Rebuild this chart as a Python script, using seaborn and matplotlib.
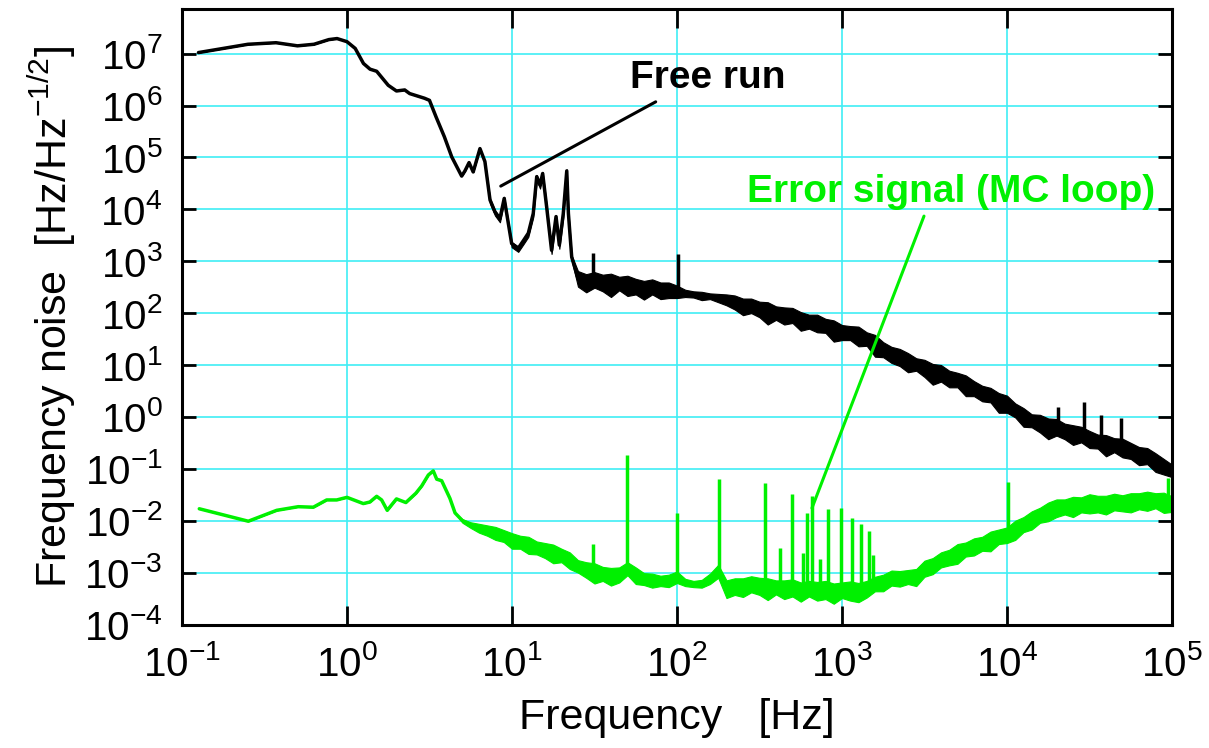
"""Frequency noise spectrum: free run vs. MC loop error signal."""

import matplotlib
matplotlib.use("Agg")
import matplotlib.pyplot as plt
import numpy as np
import pandas as pd
import seaborn as sns

# Free run: log10(f/Hz), log10(noise), and how far the noise band reaches
# above / below that level (decades)
free_logf = [
    -0.90, -0.60, -0.43, -0.30, -0.20, -0.11, -0.06, 0.00, 0.05, 0.10,
    0.14, 0.18, 0.25, 0.30, 0.35, 0.38, 0.47, 0.50, 0.54, 0.59,
    0.635, 0.695, 0.715, 0.74, 0.765, 0.806, 0.836,
    0.867, 0.897, 0.927, 0.953, 0.968, 0.998, 1.038, 1.07, 1.099, 1.129,
    1.15, 1.17, 1.186, 1.21, 1.24, 1.267, 1.287, 1.311, 1.332, 1.342, 1.362,
    1.40, 1.45, 1.50, 1.55, 1.60, 1.65, 1.70, 1.75, 1.80, 1.85,
    1.90, 1.95, 2.00, 2.05, 2.10, 2.15, 2.20, 2.25, 2.30, 2.35,
    2.40, 2.45, 2.50, 2.55, 2.60, 2.65, 2.70, 2.75, 2.80, 2.85,
    2.90, 2.95, 3.00, 3.05, 3.10, 3.15, 3.20, 3.25, 3.30, 3.35,
    3.40, 3.45, 3.50, 3.55, 3.60, 3.65, 3.70, 3.75, 3.80, 3.85,
    3.90, 3.95, 4.00, 4.05, 4.10, 4.15, 4.20, 4.25, 4.30, 4.35,
    4.40, 4.45, 4.50, 4.55, 4.60, 4.65, 4.70, 4.75, 4.80, 4.85,
    4.90, 4.95, 5.00,
]
free_logv = [
    7.02, 7.18, 7.21, 7.15, 7.18, 7.27, 7.29, 7.23, 7.10, 6.81,
    6.70, 6.66, 6.39, 6.28, 6.30, 6.23, 6.14, 6.10, 5.78, 5.40,
    5.01, 4.64, 4.74, 4.90, 4.72, 5.17, 4.92,
    4.18, 3.95, 3.82, 4.21, 3.92, 3.34, 3.25, 3.40, 3.54, 3.92,
    4.63, 4.47, 4.69, 4.05, 3.21, 3.86, 3.31, 3.92, 4.74, 3.92, 3.08,
    2.67, 2.65, 2.63, 2.62, 2.61, 2.59, 2.55, 2.54, 2.52, 2.50,
    2.47, 2.45, 2.43, 2.39, 2.37, 2.35, 2.33, 2.30, 2.27, 2.22,
    2.18, 2.14, 2.10, 2.06, 2.02, 1.98, 1.94, 1.90, 1.87, 1.83,
    1.77, 1.71, 1.66, 1.62, 1.58, 1.53, 1.46, 1.30, 1.24, 1.16,
    1.10, 1.03, 0.96, 0.90, 0.84, 0.78, 0.72, 0.65, 0.57, 0.50,
    0.42, 0.34, 0.26, 0.15, 0.04, -0.05, -0.10, -0.15, -0.20, -0.24,
    -0.29, -0.34, -0.39, -0.44, -0.49, -0.53, -0.58, -0.63, -0.69, -0.75,
    -0.84, -0.93, -1.02,
]
free_up = [0] * 27 + [0.03] * 21 + [
    0.14, 0.10, 0.16, 0.12, 0.15, 0.11, 0.17, 0.12, 0.10, 0.15,
    0.12, 0.14, 0.10, 0.06, 0.05, 0.06, 0.05, 0.07, 0.09, 0.12,
    0.10, 0.14, 0.12, 0.15, 0.11, 0.13, 0.16, 0.12, 0.10, 0.14,
    0.12, 0.15, 0.11, 0.13, 0.16, 0.10, 0.12, 0.14, 0.11, 0.15,
    0.13, 0.10, 0.14, 0.12, 0.16, 0.11, 0.13, 0.15, 0.12, 0.10,
    0.14, 0.12, 0.15, 0.11, 0.13, 0.10, 0.14, 0.12, 0.16, 0.11,
    0.13, 0.15, 0.12, 0.10, 0.14, 0.12, 0.16, 0.13, 0.11, 0.15,
    0.14, 0.12, 0.10,
]
free_down = [0] * 27 + [0.07] * 21 + [
    0.16, 0.25, 0.14, 0.20, 0.30, 0.15, 0.22, 0.18, 0.26, 0.14,
    0.20, 0.16, 0.14, 0.08, 0.07, 0.10, 0.06, 0.09, 0.12, 0.15,
    0.22, 0.14, 0.18, 0.28, 0.15, 0.20, 0.13, 0.24, 0.17, 0.20,
    0.15, 0.26, 0.18, 0.14, 0.22, 0.16, 0.30, 0.15, 0.20, 0.18,
    0.24, 0.14, 0.19, 0.28, 0.16, 0.21, 0.15, 0.25, 0.17, 0.20,
    0.14, 0.26, 0.18, 0.16, 0.23, 0.15, 0.20, 0.28, 0.16, 0.19,
    0.25, 0.15, 0.21, 0.17, 0.27, 0.15, 0.20, 0.18, 0.24, 0.16,
    0.22, 0.18, 0.14,
]
# narrow line peaks: log10(f), log10 of foot and tip
free_spike_logf = [1.49, 2.004, 4.31, 4.467, 4.57, 4.69]
free_spike_base = [2.62, 2.43, -0.20, -0.35, -0.45, -0.57]
free_spike_top = [3.15, 3.13, 0.195, 0.29, 0.03, -0.03]

# Error signal (MC loop)
mc_logf = [
    -0.895, -0.598, -0.426, -0.295, -0.204, -0.123, -0.062, 0.0, 0.099, 0.139,
    0.18, 0.21, 0.244, 0.30, 0.357, 0.418, 0.453, 0.493, 0.523, 0.544,
    0.574, 0.624, 0.655,
    0.70, 0.75, 0.80, 0.85, 0.90, 0.95, 1.00, 1.05, 1.10, 1.15,
    1.20, 1.25, 1.30, 1.35, 1.40, 1.45, 1.50, 1.55, 1.60, 1.65,
    1.70, 1.75, 1.80, 1.85, 1.90, 1.95, 2.00, 2.05, 2.10, 2.15,
    2.20, 2.25, 2.30, 2.35, 2.40, 2.45, 2.50, 2.55, 2.60, 2.65,
    2.70, 2.75, 2.80, 2.85, 2.90, 2.95, 3.00, 3.05, 3.10, 3.15,
    3.20, 3.25, 3.30, 3.35, 3.40, 3.45, 3.50, 3.55, 3.60, 3.65,
    3.70, 3.75, 3.80, 3.85, 3.90, 3.95, 4.00, 4.05, 4.10, 4.15,
    4.20, 4.25, 4.30, 4.35, 4.40, 4.45, 4.50, 4.55, 4.60, 4.65,
    4.70, 4.75, 4.80, 4.85, 4.90, 4.95, 5.00,
]
mc_logv = [
    -1.77, -2.01, -1.80, -1.73, -1.74, -1.60, -1.60, -1.55, -1.67, -1.64,
    -1.53, -1.60, -1.80, -1.58, -1.65, -1.47, -1.33, -1.12, -1.04, -1.20,
    -1.23, -1.57, -1.85,
    -2.00, -2.08, -2.13, -2.17, -2.22, -2.28, -2.36, -2.40, -2.44, -2.50,
    -2.55, -2.60, -2.65, -2.74, -2.86, -2.92, -2.96, -3.00, -3.04, -3.02,
    -2.90, -3.02, -3.10, -3.13, -3.14, -3.14, -3.08, -3.18, -3.21, -3.20,
    -3.10, -2.95, -3.27, -3.25, -3.22, -3.22, -3.22, -3.25, -3.25, -3.28,
    -3.28, -3.30, -3.30, -3.30, -3.32, -3.32, -3.32, -3.32, -3.32, -3.30,
    -3.20, -3.14, -3.10, -3.08, -3.08, -3.05, -2.92, -2.83, -2.75, -2.68,
    -2.61, -2.54, -2.48, -2.42, -2.36, -2.30, -2.25, -2.16, -2.06, -1.97,
    -1.87, -1.79, -1.75, -1.72, -1.69, -1.67, -1.66, -1.66, -1.65, -1.64,
    -1.63, -1.62, -1.61, -1.60, -1.60, -1.61, -1.65,
]
mc_up = [0] * 23 + [
    0.03, 0.05, 0.07, 0.08, 0.10, 0.10, 0.12, 0.11, 0.13, 0.10,
    0.12, 0.14, 0.11, 0.13, 0.10, 0.12, 0.14, 0.11, 0.13, 0.12,
    0.10, 0.12, 0.09, 0.11, 0.08, 0.10, 0.10, 0.06, 0.05, 0.06,
    0.08, 0.10, 0.12, 0.14, 0.11, 0.15, 0.12, 0.14, 0.10, 0.13,
    0.15, 0.11, 0.14, 0.12, 0.16, 0.11, 0.13, 0.15, 0.12, 0.14,
    0.12, 0.10, 0.14, 0.11, 0.13, 0.12, 0.15, 0.11, 0.14, 0.12,
    0.16, 0.12, 0.14, 0.11, 0.15, 0.13, 0.12, 0.16, 0.13, 0.15,
    0.12, 0.14, 0.16, 0.13, 0.15, 0.12, 0.17, 0.14, 0.13, 0.16,
    0.12, 0.15, 0.14, 0.16, 0.13, 0.15, 0.12,
]
mc_down = [0] * 23 + [
    0.04, 0.06, 0.10, 0.12, 0.15, 0.13, 0.18, 0.14, 0.20, 0.15,
    0.17, 0.22, 0.15, 0.19, 0.14, 0.18, 0.25, 0.16, 0.21, 0.17,
    0.15, 0.20, 0.14, 0.16, 0.12, 0.14, 0.12, 0.08, 0.07, 0.09,
    0.12, 0.15, 0.22, 0.18, 0.25, 0.16, 0.21, 0.28, 0.17, 0.23,
    0.18, 0.26, 0.16, 0.24, 0.19, 0.28, 0.17, 0.22, 0.25, 0.18,
    0.16, 0.22, 0.15, 0.19, 0.14, 0.21, 0.16, 0.20, 0.15, 0.18,
    0.22, 0.15, 0.19, 0.16, 0.23, 0.15, 0.18, 0.21, 0.16, 0.20,
    0.17, 0.22, 0.18, 0.16, 0.24, 0.17, 0.20, 0.18, 0.23, 0.16,
    0.19, 0.22, 0.17, 0.21, 0.16, 0.24, 0.18,
]
mc_spike_logf = [
    1.493, 1.699, 2.002, 2.257, 2.533, 2.624, 2.70, 2.765, 2.79, 2.82,
    2.867, 2.913, 2.992, 3.058, 3.115, 3.166, 3.19, 4.008, 4.978,
]
mc_spike_base = [
    -2.96, -2.90, -3.08, -2.95, -3.22, -3.25, -3.28, -3.30, -3.30, -3.30,
    -3.30, -3.32, -3.32, -3.32, -3.32, -3.30, -3.20, -2.25, -1.61,
]
mc_spike_top = [
    -2.44, -0.74, -1.86, -1.20, -1.28, -2.53, -1.49, -2.63, -1.86, -1.53,
    -2.73, -1.78, -1.76, -1.94, -2.07, -2.20, -2.66, -1.25, -1.18,
]

GREEN = "#00f000"
GRID = "#40eef5"


def spectrum_frame(logf, logv, up, down):
    """Rows for lower edge, level and upper edge at each frequency."""
    logf = np.asarray(logf)
    logv = np.asarray(logv)
    parts = [
        pd.DataFrame({"freq": 10.0 ** logf, "noise": 10.0 ** (logv + np.asarray(off))})
        for off in (-np.asarray(down), np.zeros(len(logv)), np.asarray(up))
    ]
    return pd.concat(parts, ignore_index=True)


def main():
    """Go Main Go."""
    sns.set_style("ticks")
    plt.rcParams["font.family"] = ["Liberation Sans", "DejaVu Sans"]
    plt.rcParams["mathtext.fontset"] = "custom"
    plt.rcParams["mathtext.rm"] = "Liberation Sans"
    plt.rcParams["mathtext.it"] = "Liberation Sans:italic"
    plt.rcParams["mathtext.bf"] = "Liberation Sans:bold"
    for key in ("text.color", "axes.labelcolor", "xtick.color", "ytick.color",
                "axes.edgecolor"):
        plt.rcParams[key] = "black"

    fig = plt.figure(figsize=(12.09, 7.48), dpi=100)
    ax = fig.add_axes([0.1505, 0.1651, 0.8189, 0.8222])
    ax.set(xscale="log", yscale="log")

    curves = (
        (free_logf, free_logv, free_up, free_down,
         free_spike_logf, free_spike_base, free_spike_top, "black"),
        (mc_logf, mc_logv, mc_up, mc_down,
         mc_spike_logf, mc_spike_base, mc_spike_top, GREEN),
    )
    for logf, logv, up, down, sf, sb, st, color in curves:
        sns.lineplot(
            data=spectrum_frame(logf, logv, up, down),
            x="freq",
            y="noise",
            estimator="median",
            errorbar=("pi", 100),
            err_kws={"alpha": 1, "linewidth": 0.8, "edgecolor": color},
            color=color,
            linewidth=2.5,
            ax=ax,
        )
        ax.vlines(10.0 ** np.asarray(sf), 10.0 ** np.asarray(sb),
                  10.0 ** np.asarray(st), colors=color, linewidth=2.5)

    ax.set_xlim(1e-1, 1e5)
    ax.set_ylim(1e-4, 10 ** 7.85)
    ax.xaxis.set_major_locator(matplotlib.ticker.LogLocator(base=10, numticks=20))
    ax.yaxis.set_major_locator(matplotlib.ticker.LogLocator(base=10, numticks=20))
    ax.xaxis.set_minor_locator(matplotlib.ticker.NullLocator())
    ax.yaxis.set_minor_locator(matplotlib.ticker.NullLocator())
    ax.grid(True, which="major", color=GRID, linewidth=1.2)
    ax.set_axisbelow(True)
    for spine in ax.spines.values():
        spine.set_visible(True)
        spine.set_linewidth(2.2)
        spine.set_color("black")
    ax.tick_params(axis="both", direction="in", top=True, right=True,
                   width=2.0, labelsize=29, color="black", labelcolor="black")
    ax.tick_params(axis="x", length=14, pad=15)
    ax.tick_params(axis="y", length=10, pad=14)

    ax.set_xlabel("Frequency   [Hz]", fontsize=31, labelpad=10)
    ax.set_ylabel("Frequency noise  [Hz/Hz$^{-1/2}$]", fontsize=31, labelpad=4)

    # leader lines and labels
    ax.annotate("", xy=(10 ** 0.932, 10 ** 4.447), xytext=(10 ** 1.871, 10 ** 6.071),
                arrowprops=dict(arrowstyle="-", color="black", lw=2.2,
                                shrinkA=0, shrinkB=0))
    ax.text(10 ** 2.188, 10 ** 6.335, "Free run", fontsize=28, fontweight="bold",
            ha="center", va="baseline", color="black")
    ax.annotate("", xy=(10 ** 2.818, 10 ** -1.757), xytext=(10 ** 3.497, 10 ** 3.869),
                arrowprops=dict(arrowstyle="-", color=GREEN, lw=2.2,
                                shrinkA=0, shrinkB=0))
    ax.text(10 ** 3.658, 10 ** 4.144, "Error signal (MC loop)", fontsize=28,
            fontweight="bold", ha="center", va="baseline", color=GREEN)

    if ax.get_legend() is not None:
        ax.get_legend().remove()
    fig.savefig("out.png", dpi=100)


if __name__ == "__main__":
    main()
